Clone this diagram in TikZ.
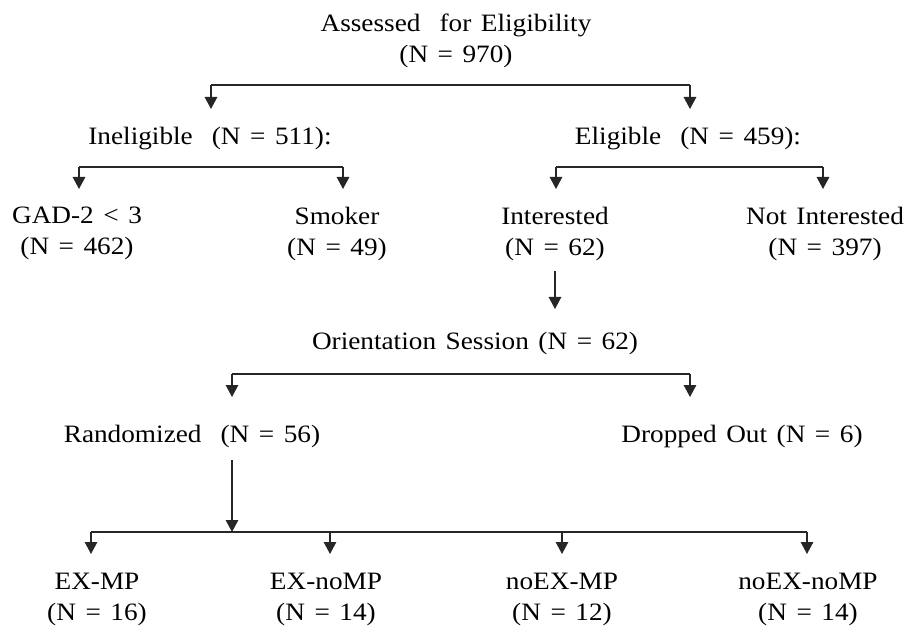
\documentclass[tikz,border=0pt]{standalone}
\usepackage{fontspec}
\setmainfont[FakeStretch=1.09,WordSpace=1.4]{Liberation Serif}
\usetikzlibrary{arrows.meta}
\begin{document}
\begin{tikzpicture}[x=1pt,y=-1pt,
  lbl/.style={inner sep=0pt,align=center,font=\fontsize{25}{30.5}\selectfont},
  two/.style={lbl,anchor=north},
  one/.style={lbl,anchor=base},
  conn/.style={line width=1.4pt,draw=black!85},
  tip/.style={conn,-{Triangle[width=12.5pt,length=12pt]}}]
\useasboundingbox (0,0) rectangle (911,631);

% texts
\node[two] (assess) at (456,14) {Assessed\ \ for Eligibility\\(N = 970)};
\node[one] (inel) at (210,145) {Ineligible\ \ (N = 511):};
\node[one] (elig) at (688,145) {Eligible\ \ (N = 459):};
\node[two] (gad) at (77,207) {GAD-2 {<} 3\\(N = 462)};
\node[two] (smoke) at (337,207) {Smoker\\(N = 49)};
\node[two] (inter) at (555,207) {Interested\\(N = 62)};
\node[two] (notint) at (825,207) {Not Interested\\(N = 397)};
\node[one] (orient) at (475,349) {Orientation Session (N = 62)};
\node[one] (rand) at (192,442) {Randomized\ \ (N = 56)};
\node[one] (drop) at (742,442) {Dropped Out (N = 6)};
\node[two] (exmp) at (97,573) {EX-MP\\(N = 16)};
\node[two] (exnomp) at (326,573) {EX-noMP\\(N = 14)};
\node[two] (noexmp) at (562,573) {noEX-MP\\(N = 12)};
\node[two] (noexnomp) at (808,573) {noEX-noMP\\(N = 14)};

% arrow tip coordinates
\coordinate (t1a) at (211,109);
\coordinate (t1b) at (690,109);
\coordinate (t2a) at (79,189);
\coordinate (t2b) at (343,189);
\coordinate (t2c) at (556,189);
\coordinate (t2d) at (823,189);
\coordinate (t3a) at (232,397);
\coordinate (t3b) at (690,397);
\coordinate (rtop) at (232,460);
\coordinate (rbar) at (232,532);
\coordinate (t4a) at (91,554);
\coordinate (t4b) at (330,554);
\coordinate (t4c) at (562,554);
\coordinate (t4d) at (807,554);

% assessed fork
\draw[conn] (t1a|-0,85) -- (t1b|-0,85);
\draw[tip] (t1a|-0,85) -- (t1a);
\draw[tip] (t1b|-0,85) -- (t1b);
% ineligible fork
\draw[conn] (t2a|-0,167) -- (t2b|-0,167);
\draw[tip] (t2a|-0,167) -- (t2a);
\draw[tip] (t2b|-0,167) -- (t2b);
% eligible fork
\draw[conn] (t2c|-0,167) -- (t2d|-0,167);
\draw[tip] (t2c|-0,167) -- (t2c);
\draw[tip] (t2d|-0,167) -- (t2d);
% interested to orientation
\draw[tip] (555,271) -- (555,309);
% orientation fork
\draw[conn] (t3a|-0,374) -- (t3b|-0,374);
\draw[tip] (t3a|-0,374) -- (t3a);
\draw[tip] (t3b|-0,374) -- (t3b);
% randomized
\draw[tip] (rtop) -- (rbar);
\draw[conn] (t4a|-rbar) -- (t4d|-rbar);
\draw[tip] (t4a|-rbar) -- (t4a);
\draw[tip] (t4b|-rbar) -- (t4b);
\draw[tip] (t4c|-rbar) -- (t4c);
\draw[tip] (t4d|-rbar) -- (t4d);
\end{tikzpicture}
\end{document}
